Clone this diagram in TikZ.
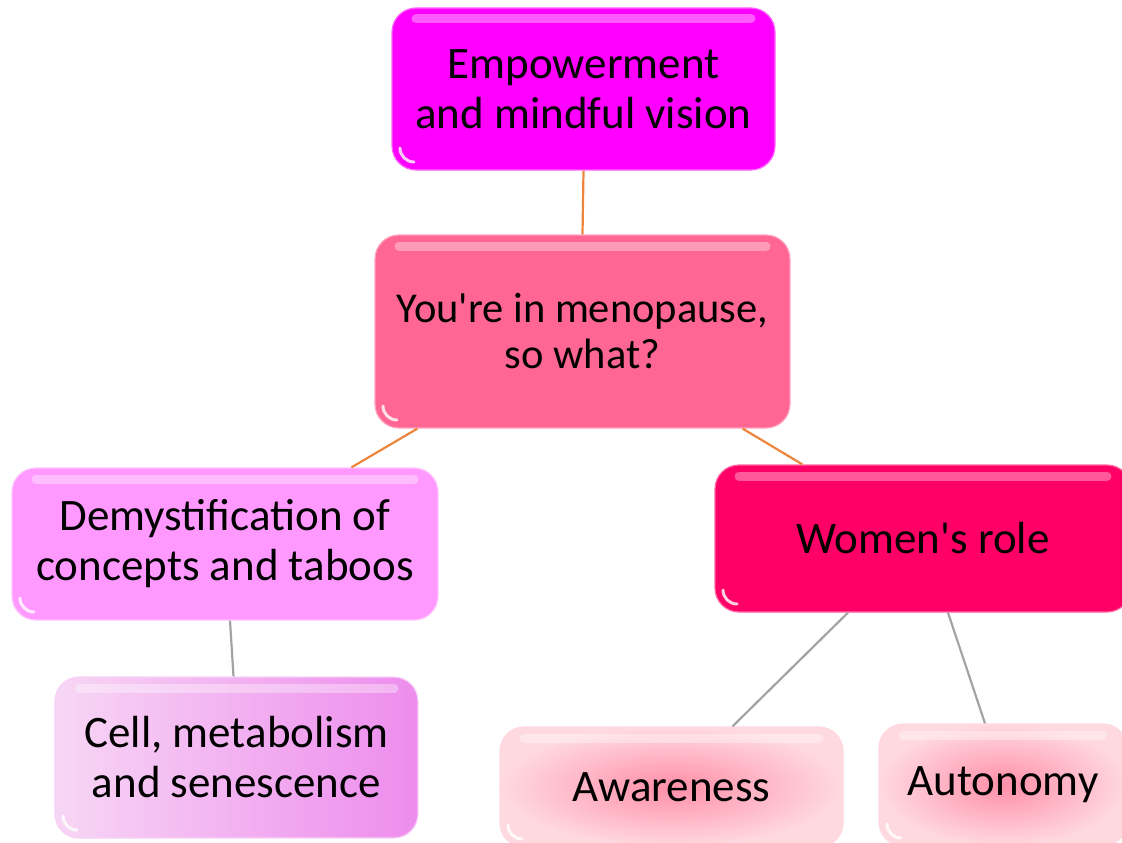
\documentclass[tikz,border=0pt]{standalone}
\usepackage{fontspec}
\setmainfont{Carlito}[Ligatures=TeXOff]
\usetikzlibrary{calc}
\begin{document}
\begin{tikzpicture}[x=1.00pt, y=-1.00pt,
  box/.style={rounded corners=24pt, align=center, inner sep=0pt,
    font=\fontsize{45}{50}\selectfont, text=black, line width=1.2pt,
    path picture={\draw[white, opacity=0.35, line width=9pt, line cap=round]
      ([xshift=24pt, yshift=-11pt]path picture bounding box.north west) --
      ([xshift=-24pt, yshift=-11pt]path picture bounding box.north east);
      \draw[white, opacity=0.8, line width=3pt, line cap=round]
      ([xshift=8pt, yshift=22pt]path picture bounding box.south west) arc (180:270:14pt);}},
  link/.style={line width=2.2pt, draw=O},
  sublink/.style={line width=2.2pt, draw=G}]
\clip (0,0) rectangle (1122,843);
\path (0,0) rectangle (1122,843);
\definecolor{O}{rgb}{0.93,0.52,0.24}
\definecolor{G}{rgb}{0.64,0.64,0.64}
\definecolor{Top}{rgb}{1.00,0.00,1.00}
\definecolor{Mid}{rgb}{1.00,0.40,0.58}
\definecolor{Left}{rgb}{1.00,0.60,1.00}
\definecolor{Right}{rgb}{1.00,0.00,0.40}
\definecolor{CellA}{rgb}{0.97,0.84,0.96}
\definecolor{CellB}{rgb}{0.93,0.55,0.93}
\definecolor{PinkIn}{rgb}{1.00,0.56,0.66}
\definecolor{PinkOut}{rgb}{1.00,0.85,0.88}
\node[box, fill=Top, draw=Top!60!white, minimum width=383pt, minimum height=162pt] (vision) at (583.5,89) {Empowerment\\and mindful vision};
\node[box, fill=Mid, draw=Mid!60!white, minimum width=415pt, minimum height=193pt, font=\fontsize{42.5}{46}\selectfont] (menopause) at (582.5,331.5) {You're in menopause,\\so what?};
\node[box, fill=Left, draw=Left!60!white, minimum width=426pt, minimum height=152pt] (taboos) at (225,544) {Demystification of\\concepts and taboos};
\node[box, fill=Right, draw=Right!60!white, minimum width=416pt, minimum height=147pt] (role) at (923,538.5) {Women's role};
\node[box, left color=CellA, right color=CellB, draw=CellB!40!white, minimum width=363pt, minimum height=161pt] (cell) at (236.5,757.5) {Cell, metabolism\\and senescence};
\node[box, inner color=PinkIn, outer color=PinkOut, draw=PinkOut, minimum width=343pt, minimum height=120pt] (awareness) at (671.5,787) {Awareness};
\node[box, inner color=PinkIn, outer color=PinkOut, draw=PinkOut, minimum width=248pt, minimum height=122pt] (autonomy) at (1003,785) {Autonomy};
\path[link] (vision.south) -- (menopause.north);
\path[link] ([xshift=43pt]menopause.south west) -- ([xshift=340pt]taboos.north west);
\path[link] ([xshift=-48pt]menopause.south east) -- ([xshift=88pt]role.north west);
\path[sublink] ([xshift=5pt]taboos.south) -- ([xshift=-3pt]cell.north);
\path[sublink] ([xshift=-75pt]role.south) -- ([xshift=61pt]awareness.north);
\path[sublink] ([xshift=25pt]role.south) -- ([xshift=-18pt]autonomy.north);
\end{tikzpicture}
\end{document}
